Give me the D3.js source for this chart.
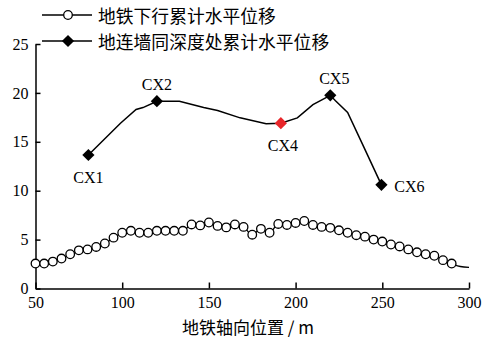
<!DOCTYPE html>
<html><head><meta charset="utf-8">
<script src="https://cdn.jsdelivr.net/npm/d3@7"></script>
<style>body{margin:0;background:#fff}svg{display:block}</style>
</head><body>
<script>
// Series 1: 地铁下行累计水平位移 (circles every 5 m)
const subwayX = [50,55,60,65,70,75,80,85,90,95,100,105,110,115,120,125,130,135,140,145,150,155,160,165,170,175,180,185,190,195,200,205,210,215,220,225,230,235,240,245,250,255,260,265,270,275,280,285,290,295,300];
const subwayY = [2.55,2.55,2.75,3.06,3.5,3.9,4.0,4.25,4.6,5.2,5.7,5.9,5.7,5.7,5.9,5.9,5.9,5.9,6.55,6.45,6.75,6.4,6.25,6.55,6.3,5.5,6.1,5.7,6.6,6.5,6.7,6.9,6.5,6.3,6.2,5.95,5.7,5.45,5.3,5.0,4.8,4.5,4.3,4.0,3.7,3.5,3.35,2.9,2.55,2.25,2.15];
const subwayMarkerMax = 290;

// Series 2: 地连墙同深度处累计水平位移 (polyline vertices)
const wallX = [80.5,99,108,112,120,123,133,147,155,168,183,191.5,201,210,220,223,230,239.5,249.5];
const wallY = [13.65,16.9,18.3,18.5,19.15,19.15,19.15,18.5,18.2,17.45,16.85,16.9,17.45,18.8,19.75,19.2,18.0,14.4,10.6];

// Labelled monitoring points
const cxNames = ["CX1","CX2","CX4","CX5","CX6"];
const cxX = [80.5,120,191.5,220,249.5];
const cxY = [13.65,19.15,16.9,19.75,10.6];
const cxColor = ["#000","#000","#e8262a","#000","#000"];

const xTicks = [50,100,150,200,250,300];
const yTicks = [0,5,10,15,20,25];
const legendLabels = ["地铁下行累计水平位移","地连墙同深度处累计水平位移"];
const xTitle = "地铁轴向位置 / m";

const W = 488, H = 339;
const svg = d3.select("body").append("svg").attr("width", W).attr("height", H);
const x = d3.scaleLinear().domain([50,300]).range([35.5,469]);
const y = d3.scaleLinear().domain([0,25]).range([288.5,44]);
const serif = "'Liberation Serif','Times New Roman',serif";
const cjk = "'Noto Sans CJK SC','Noto Sans',sans-serif";

// axes
const xAxis = svg.append("g").attr("transform", `translate(0,${y(0)})`)
  .call(d3.axisBottom(x).tickValues(xTicks).tickSizeInner(-6).tickSizeOuter(0).tickPadding(8));
const yAxis = svg.append("g").attr("transform", `translate(${x(50)},0)`)
  .call(d3.axisLeft(y).tickValues(yTicks).tickSizeInner(-5).tickSizeOuter(0).tickPadding(7));
[xAxis,yAxis].forEach(g=>{
  g.selectAll("path,line").attr("stroke","#000").attr("stroke-width",1.5);
  g.selectAll("text").attr("font-family",serif).attr("font-size",16).attr("fill","#000");
});
xAxis.selectAll("text").attr("dy","0.71em");

// subway line
const subway = subwayX.map((d,i)=>[d,subwayY[i]]);
svg.append("path").datum(subway)
  .attr("d", d3.line().x(d=>x(d[0])).y(d=>y(d[1])).curve(d3.curveMonotoneX))
  .attr("fill","none").attr("stroke","#000").attr("stroke-width",1.3);
svg.selectAll("circle.sub").data(subway.filter(d=>d[0]<=subwayMarkerMax)).enter().append("circle")
  .attr("cx",d=>x(d[0])).attr("cy",d=>y(d[1])).attr("r",4.3)
  .attr("fill","#fff").attr("stroke","#000").attr("stroke-width",1.3);

// wall line
const wall = wallX.map((d,i)=>[d,wallY[i]]);
svg.append("path").datum(wall)
  .attr("d", d3.line().x(d=>x(d[0])).y(d=>y(d[1])))
  .attr("fill","none").attr("stroke","#000").attr("stroke-width",1.5);
const diamond = d3.symbol().type(d3.symbolDiamond2).size(95);
const cx = cxNames.map((n,i)=>({n,x:cxX[i],y:cxY[i],c:cxColor[i]}));
svg.selectAll("path.dia").data(cx).enter().append("path")
  .attr("d",diamond).attr("transform",d=>`translate(${x(d.x)},${y(d.y)})`).attr("fill",d=>d.c);
const labelOff = {CX1:[0,22],CX2:[0,-17],CX4:[2,22],CX5:[4,-17],CX6:[28,2]};
svg.selectAll("text.cx").data(cx).enter().append("text")
  .attr("x",d=>x(d.x)+labelOff[d.n][0]).attr("y",d=>y(d.y)+labelOff[d.n][1])
  .attr("text-anchor","middle").attr("dominant-baseline","central")
  .attr("font-family",serif).attr("font-size",16).attr("fill","#000").text(d=>d.n);

// legend
const leg = svg.append("g");
[15,41].forEach((ly,i)=>{
  leg.append("line").attr("x1",42).attr("x2",92).attr("y1",ly).attr("y2",ly).attr("stroke","#000").attr("stroke-width",1.5);
  if(i===0) leg.append("circle").attr("cx",68).attr("cy",ly).attr("r",4.3).attr("fill","#fff").attr("stroke","#000").attr("stroke-width",1.3);
  else leg.append("path").attr("d",diamond).attr("transform",`translate(68,${ly})`).attr("fill","#000");
  leg.append("text").attr("x",98).attr("y",ly).attr("dominant-baseline","central")
    .attr("font-family",cjk).attr("font-size",17.8).attr("fill","#000").text(legendLabels[i]);
});

// x title
svg.append("text").attr("x",248).attr("y",326).attr("text-anchor","middle").attr("dominant-baseline","central")
  .attr("font-family",cjk).attr("font-size",17).attr("fill","#000").text(xTitle);
</script>
</body></html>
